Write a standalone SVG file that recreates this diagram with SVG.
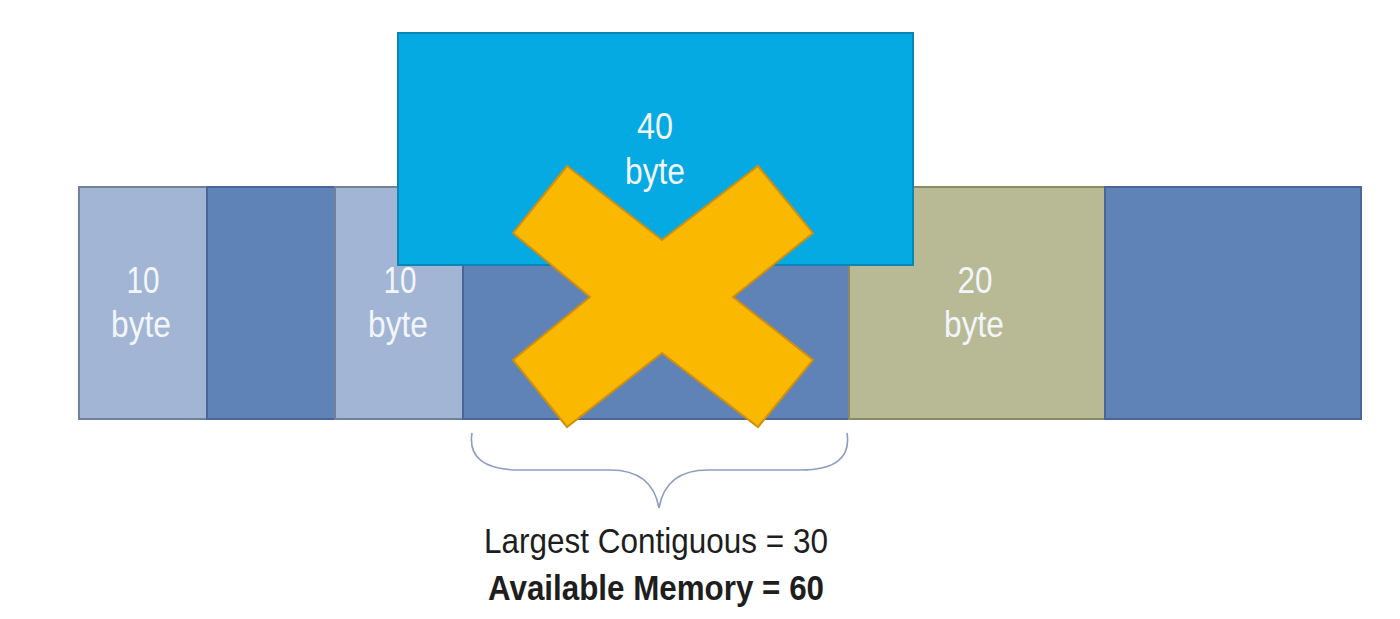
<svg xmlns="http://www.w3.org/2000/svg" width="1400" height="619" viewBox="0 0 1400 619">
<style>
.light{fill:#a2b5d4;stroke:#71819c;stroke-width:2}
.dark{fill:#5f83b7;stroke:#4a6696;stroke-width:2}
.olive{fill:#b8ba96;stroke:#878a62;stroke-width:2}
.blue{fill:#05aae3;stroke:#0b86b4;stroke-width:2}
.lbl{font-family:"Liberation Sans",Arial,sans-serif;font-size:37px;fill:#f2f5fa;text-anchor:middle}
.cap{font-family:"Liberation Sans",Arial,sans-serif;font-size:35px;fill:#1e1e1e;text-anchor:middle}
</style>
<rect width="1400" height="619" fill="#ffffff"/>
<g id="seg1"><rect class="light" x="79" y="187" width="128" height="232"/>
<text class="lbl" x="143" y="293" textLength="33" lengthAdjust="spacingAndGlyphs">10</text>
<text class="lbl" x="141" y="337" textLength="60" lengthAdjust="spacingAndGlyphs">byte</text></g>
<g id="seg2"><rect class="dark" x="207" y="187" width="128" height="232"/></g>
<g id="seg3"><rect class="light" x="335" y="187" width="128" height="232"/>
<text class="lbl" x="400" y="293" textLength="33" lengthAdjust="spacingAndGlyphs">10</text>
<text class="lbl" x="398" y="337" textLength="60" lengthAdjust="spacingAndGlyphs">byte</text></g>
<g id="seg4"><rect class="dark" x="463" y="187" width="386" height="232"/></g>
<g id="seg5"><rect class="olive" x="849" y="187" width="256" height="232"/>
<text class="lbl" x="975" y="293" textLength="35" lengthAdjust="spacingAndGlyphs">20</text>
<text class="lbl" x="974" y="337" textLength="60" lengthAdjust="spacingAndGlyphs">byte</text></g>
<g id="seg6"><rect class="dark" x="1105" y="187" width="256" height="232"/></g>
<g id="request"><rect class="blue" x="398" y="33" width="515" height="232"/>
<text class="lbl" x="655" y="139" textLength="36" lengthAdjust="spacingAndGlyphs">40</text>
<text class="lbl" x="655" y="184" textLength="60" lengthAdjust="spacingAndGlyphs">byte</text></g>
<g id="cross"><polygon points="567,166 662,240 758,166 813,233 733,297 813,360 758,427 662,353 567,427 513,360 590,297 513,233" fill="#fbb800" stroke="#d0900c" stroke-width="2" stroke-linejoin="miter"/></g>
<g id="connectors"><path d="M472,433 C468,458 485,470 520,470 L610,470 C640,470 655,485 659,508 C663,485 678,470 708,470 L800,470 C835,470 851,458 847,433" fill="none" stroke="#8d9dc2" stroke-width="1.6"/></g>
<g id="caption">
<text class="cap" x="656" y="553" textLength="344" lengthAdjust="spacingAndGlyphs">Largest Contiguous = 30</text>
<text class="cap" x="656" y="600" font-weight="bold" textLength="336" lengthAdjust="spacingAndGlyphs">Available Memory = 60</text>
</g>
</svg>
